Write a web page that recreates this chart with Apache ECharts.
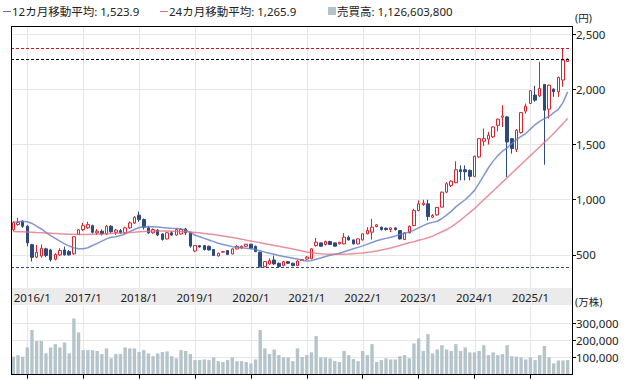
<!DOCTYPE html>
<html><head><meta charset="utf-8">
<script src="https://cdn.jsdelivr.net/npm/echarts@6/dist/echarts.min.js"></script>
<style>html,body{margin:0;padding:0;background:#fff}#c{width:625px;height:380px}</style>
</head><body><div id="c"></div>
<script>
const categories = ['2015/10','2015/11','2015/12',
'2016/1','2016/2','2016/3','2016/4','2016/5','2016/6','2016/7','2016/8','2016/9','2016/10','2016/11','2016/12',
'2017/1','2017/2','2017/3','2017/4','2017/5','2017/6','2017/7','2017/8','2017/9','2017/10','2017/11','2017/12',
'2018/1','2018/2','2018/3','2018/4','2018/5','2018/6','2018/7','2018/8','2018/9','2018/10','2018/11','2018/12',
'2019/1','2019/2','2019/3','2019/4','2019/5','2019/6','2019/7','2019/8','2019/9','2019/10','2019/11','2019/12',
'2020/1','2020/2','2020/3','2020/4','2020/5','2020/6','2020/7','2020/8','2020/9','2020/10','2020/11','2020/12',
'2021/1','2021/2','2021/3','2021/4','2021/5','2021/6','2021/7','2021/8','2021/9','2021/10','2021/11','2021/12',
'2022/1','2022/2','2022/3','2022/4','2022/5','2022/6','2022/7','2022/8','2022/9','2022/10','2022/11','2022/12',
'2023/1','2023/2','2023/3','2023/4','2023/5','2023/6','2023/7','2023/8','2023/9','2023/10','2023/11','2023/12',
'2024/1','2024/2','2024/3','2024/4','2024/5','2024/6','2024/7','2024/8','2024/9','2024/10','2024/11','2024/12',
'2025/1','2025/2','2025/3','2025/4','2025/5','2025/6','2025/7','2025/8','2025/9'];

const yearLabels = ['2016/1','2017/1','2018/1','2019/1','2020/1','2021/1','2022/1','2023/1','2024/1','2025/1'];
const priceTicks = [500,1000,1500,2000,2500];
const volumeTicks = [100000,200000,300000];

const open = [727,775,805,760,593,480,490,555,545,460,500,545,530,510,685,
730,745,765,700,715,690,760,705,720,700,745,790,
860,820,745,700,725,690,645,700,680,690,735,700,
535,584,584,578,548,491,525,539,509,554,563,578,
597,578,524,394,418,454,424,403,439,424,403,450,
463,465,585,609,594,621,609,600,600,660,636,600,
636,691,706,757,751,742,730,745,721,639,700,766,
903,955,963,842,863,933,1069,1130,1154,1272,1272,1266,
1212,1388,1530,1550,1570,1675,1748,1751,1554,1457,1609,1803,
1873,1949,1942,2045,1821,2003,1979,2085,2254];
const close = [793,795,760,609,478,524,560,495,455,505,540,500,500,665,727,
765,775,705,715,690,760,710,725,700,745,790,840,
820,750,700,730,680,640,700,680,730,730,700,580,
585,572,548,545,494,515,530,503,554,578,578,597,
560,530,392,439,448,418,394,439,424,403,445,457,
480,555,615,579,621,594,579,615,660,636,600,645,
691,721,751,772,730,730,745,730,645,700,760,903,
963,969,848,857,930,1069,1145,1169,1272,1254,1254,1212,
1394,1554,1554,1585,1660,1730,1760,1524,1464,1630,1790,1848,
1988,1903,2009,1812,2039,1979,2109,2266,2272];
const low = [715,765,745,578,440,470,475,480,440,450,490,495,495,500,680,
715,735,695,680,675,680,700,680,690,695,735,780,
800,730,690,690,670,630,640,670,675,685,680,565,
525,565,540,540,490,485,520,500,505,550,555,575,
555,525,385,388,410,410,388,398,418,398,400,445,
455,460,575,575,585,590,575,595,595,630,595,595,
630,685,639,750,720,720,706,720,640,635,695,760,
895,945,812,835,855,930,1060,1115,1150,1176,1176,1176,
1205,1380,1488,1500,1560,1620,1660,1206,1418,1433,1600,1780,
1870,1888,1930,1318,1736,1933,1933,2024,2250];
const high = [805,836,815,770,600,590,595,565,555,515,560,575,545,670,735,
790,800,775,735,730,770,770,735,735,755,805,850,
893,830,760,740,735,695,710,715,740,745,745,705,
590,590,590,585,550,520,535,545,560,590,585,600,
600,585,530,445,469,494,430,445,445,430,452,462,
490,560,654,612,630,628,612,620,697,676,640,650,
695,751,827,780,757,748,748,750,725,705,766,918,
994,1000,1000,870,935,1075,1160,1175,1348,1312,1312,1275,
1400,1560,1645,1615,1665,1736,1857,1760,1560,1640,1795,1872,
1995,2033,2251,2050,2045,2010,2115,2372,2285];

const volume = [105000,114000,105000,159000,260000,196000,196000,124000,159000,178000,159000,188000,124000,327000,246000,
143000,143000,143000,138000,120000,153000,95000,120000,120000,159000,153000,153000,
132000,143000,124000,108000,124000,132000,136000,108000,95000,143000,138000,120000,
85000,85000,89000,85000,101000,79000,74000,85000,101000,79000,79000,74000,
66000,89000,260000,153000,120000,147000,114000,101000,101000,79000,153000,103000,
114000,130000,225000,101000,101000,95000,79000,74000,138000,114000,91000,79000,
138000,114000,178000,74000,85000,95000,89000,89000,108000,114000,95000,182000,
211000,138000,236000,124000,147000,172000,147000,138000,178000,138000,159000,130000,
130000,138000,172000,114000,130000,114000,120000,172000,108000,105000,101000,89000,
101000,85000,114000,167000,101000,66000,83000,83000,85000];

const ma12 = [797,800,805,800,785,760,735,705,675,650,625,600,580,565,555,
555,565,585,605,625,645,660,665,675,690,710,730,
748,755,757,755,752,748,745,742,740,735,725,705,
680,665,650,635,620,605,595,585,575,570,565,560,
555,548,538,525,515,505,495,485,478,470,462,452,
445,448,460,472,485,497,505,515,528,542,555,568,
582,598,612,628,640,650,660,672,685,695,708,725,
745,765,785,795,805,830,860,895,935,970,1000,1040,
1085,1150,1220,1290,1350,1400,1440,1470,1510,1545,1575,1600,
1640,1680,1710,1735,1755,1790,1820,1880,1978];
const ma24 = [712,711,710,708,705,702,700,698,696,694,692,690,688,687,686,
686,686,687,688,690,692,694,696,698,700,703,706,
710,713,715,716,716,716,716,715,714,713,711,708,
704,700,695,690,684,678,672,665,658,650,642,634,
626,618,610,602,594,586,578,570,562,554,545,536,
527,520,515,511,508,506,505,505,506,508,511,514,
518,523,529,536,544,553,563,574,586,598,610,620,
632,643,655,670,690,710,730,755,783,815,850,885,
920,960,1000,1040,1080,1120,1160,1200,1240,1280,1320,1360,
1400,1440,1480,1520,1560,1600,1645,1690,1738];

const FONT = '"Noto Sans", "Noto Sans CJK JP", sans-serif';
const UP = '#e0212b', DOWN = '#2e4a7c';
const yearIdx = yearLabels.map(v => categories.indexOf(v));
const fmt = v => Number(v).toLocaleString('en-US');

function gridRender(params, api) {
  const cs = params.coordSys;
  const x = Math.round(api.coord([api.value(0), api.value(1)])[0]) + 0.5;
  return {type: 'line', shape: {x1: x, y1: cs.y, x2: x, y2: cs.y + cs.height},
          style: {stroke: '#e6e6e6', lineWidth: 1}, silent: true};
}

const chart = echarts.init(document.getElementById('c'), null, {renderer: 'svg', width: 625, height: 380});
chart.setOption({
  animation: false,
  backgroundColor: '#ffffff',
  textStyle: {fontFamily: FONT},
  grid: [
    {left: 11, right: 55, top: 26, height: 262},
    {left: 11, right: 55, top: 306, height: 68.7}
  ],
  xAxis: [
    {type: 'category', gridIndex: 0, data: categories, boundaryGap: true,
     axisLine: {show: false}, axisTick: {show: false}, splitLine: {show: false},
     axisLabel: {show: true, interval: (i, v) => yearLabels.indexOf(v) >= 0, margin: 4,
       color: '#222', fontSize: 11.5, fontFamily: FONT,
       formatter: v => v === yearLabels[0] ? '{f|' + v + '}' : v,
       rich: {f: {padding: [0, 0, 0, 10], color: '#222', fontSize: 11.5, fontFamily: FONT}}}},
    {type: 'category', gridIndex: 1, data: categories, boundaryGap: true,
     axisLine: {show: false}, splitLine: {show: false}, axisLabel: {show: false},
     axisTick: {show: true, alignWithLabel: true, interval: (i, v) => yearLabels.indexOf(v) >= 0,
       length: 4, lineStyle: {color: '#000'}}}
  ],
  yAxis: [
    {type: 'value', gridIndex: 0, position: 'right', offset: 2, min: 200, max: 2575, splitNumber: 5,
     axisLine: {show: false},
     axisTick: {show: true, length: 4, lineStyle: {color: '#000'}, customValues: priceTicks},
     axisLabel: {margin: 4, color: '#222', fontSize: 11.5, fontFamily: FONT, customValues: priceTicks, formatter: fmt},
     splitLine: {show: true, lineStyle: {color: '#e6e6e6', width: 1}}},
    {type: 'value', gridIndex: 1, position: 'right', offset: 2, min: 0, max: 400000, interval: 100000,
     axisLine: {show: false},
     axisTick: {show: true, length: 4, lineStyle: {color: '#000'}, customValues: volumeTicks},
     axisLabel: {margin: 4, color: '#222', fontSize: 11.5, fontFamily: FONT, customValues: volumeTicks, formatter: fmt},
     splitLine: {show: true, lineStyle: {color: '#e6e6e6', width: 1}}}
  ],
  series: [
    {type: 'custom', name: 'vgrid0', xAxisIndex: 0, yAxisIndex: 0, z: 1, silent: true,
     data: yearIdx.map(i => [i, 1000]), renderItem: gridRender},
    {type: 'custom', name: 'vgrid1', xAxisIndex: 1, yAxisIndex: 1, z: 1, silent: true,
     data: yearIdx.map(i => [i, 100000]), renderItem: gridRender},
    {type: 'candlestick', name: 'price', xAxisIndex: 0, yAxisIndex: 0, z: 3, barWidth: 3,
     data: categories.map((c, i) => [open[i], close[i], low[i], high[i]]),
     itemStyle: {color: '#ffffff', color0: DOWN, borderColor: UP, borderColor0: DOWN, borderWidth: 1},
     markLine: {silent: true, symbol: ['none', 'none'], label: {show: false},
       lineStyle: {type: [3, 2], width: 1},
       data: [
         {yAxis: Math.max(...high), lineStyle: {color: '#d7141e', type: [3, 2], width: 1}},
         {yAxis: close[close.length - 1], lineStyle: {color: '#000000', type: [3, 2], width: 1}},
         {yAxis: Math.min(...low), lineStyle: {color: '#2e4a7c', type: [3, 2], width: 1}}
       ]}},
    {type: 'line', name: 'ma12', xAxisIndex: 0, yAxisIndex: 0, z: 4, data: ma12, showSymbol: false,
     lineStyle: {color: 'rgba(100,125,195,0.8)', width: 1.5}},
    {type: 'line', name: 'ma24', xAxisIndex: 0, yAxisIndex: 0, z: 4, data: ma24, showSymbol: false,
     lineStyle: {color: 'rgba(222,110,125,0.75)', width: 1.5}},
    {type: 'bar', name: 'volume', xAxisIndex: 1, yAxisIndex: 1, z: 2, data: volume, barWidth: 3.4,
     itemStyle: {color: '#b5c4cb'}}
  ],
  graphic: [
    {type: 'rect', z: -1, silent: true, shape: {x: 12, y: 288, width: 560, height: 17}, style: {fill: '#ebebeb'}},
    {type: 'line', z: 100, silent: true, shape: {x1: 11, y1: 26.5, x2: 572.5, y2: 26.5}, style: {stroke: '#000', lineWidth: 1}},
    {type: 'line', z: 100, silent: true, shape: {x1: 11.5, y1: 26, x2: 11.5, y2: 375}, style: {stroke: '#000', lineWidth: 1}},
    {type: 'line', z: 100, silent: true, shape: {x1: 572.5, y1: 26, x2: 572.5, y2: 375}, style: {stroke: '#000', lineWidth: 1}},
    {type: 'line', z: 100, silent: true, shape: {x1: 11, y1: 374.5, x2: 573, y2: 374.5}, style: {stroke: '#000', lineWidth: 1}},
    {type: 'line', silent: true, shape: {x1: 3, y1: 11.5, x2: 11, y2: 11.5}, style: {stroke: '#5c74ba', lineWidth: 1}},
    {type: 'text', silent: true, x: 12, y: 11, style: {text: '12カ月移動平均: 1,523.9', fill: '#222', font: '11.5px ' + FONT, textVerticalAlign: 'middle'}},
    {type: 'line', silent: true, shape: {x1: 160, y1: 11.5, x2: 168, y2: 11.5}, style: {stroke: '#d9707f', lineWidth: 1}},
    {type: 'text', silent: true, x: 169, y: 11, style: {text: '24カ月移動平均: 1,265.9', fill: '#222', font: '11.5px ' + FONT, textVerticalAlign: 'middle'}},
    {type: 'rect', silent: true, shape: {x: 328, y: 7, width: 8, height: 8}, style: {fill: '#b5c4cb'}},
    {type: 'text', silent: true, x: 337, y: 11, style: {text: '売買高: 1,126,603,800', fill: '#222', font: '11.5px ' + FONT, textVerticalAlign: 'middle'}},
    {type: 'text', silent: true, x: 575, y: 18, style: {text: '(円)', fill: '#222', font: '10.5px ' + FONT, textVerticalAlign: 'middle'}},
    {type: 'text', silent: true, x: 575, y: 302, style: {text: '(万株)', fill: '#222', font: '10.5px ' + FONT, textVerticalAlign: 'middle'}}
  ]
});
</script>
</body></html>
